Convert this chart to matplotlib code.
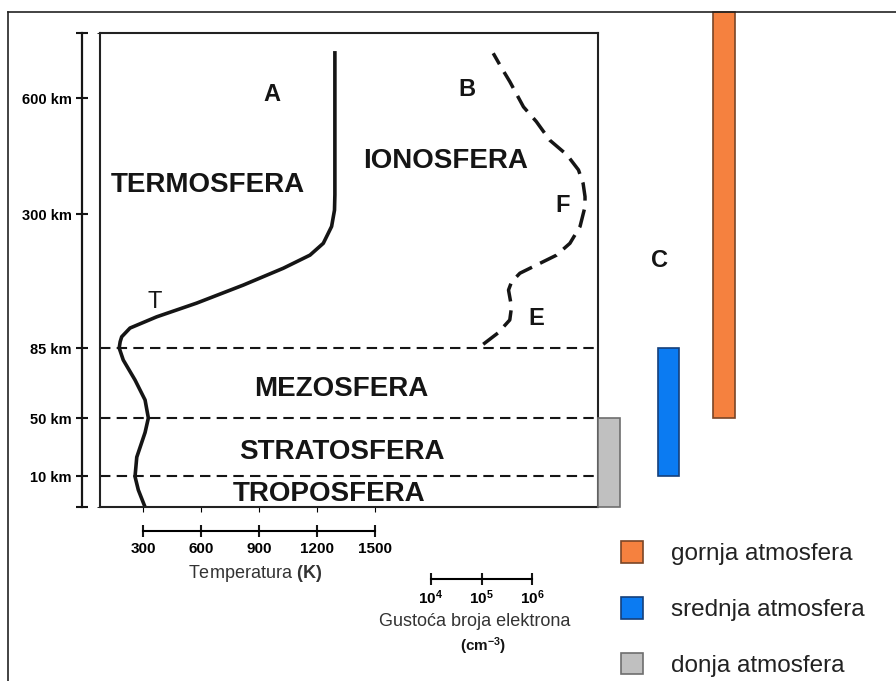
import numpy as np
import matplotlib
matplotlib.use('Agg')
import matplotlib.pyplot as plt
from matplotlib.patches import Patch
from matplotlib.lines import Line2D
from matplotlib.ticker import NullLocator

plt.rcParams['font.family'] = ['Liberation Sans', 'DejaVu Sans']
plt.rcParams['mathtext.fontset'] = 'custom'
plt.rcParams['mathtext.rm'] = 'Liberation Sans'
plt.rcParams['mathtext.bf'] = 'Liberation Sans:bold'
plt.rcParams['mathtext.it'] = 'Liberation Sans:italic'

# altitude axis (km) and layer boundaries
alt_ticks = [10, 50, 85, 300, 600]
alt_labels = ['10 km', '50 km', '85 km', '300 km', '600 km']
boundaries = [10, 50, 85]

# curve A - temperature profile
temp_alt = [0.6, 5.5, 9.8, 23, 40, 50, 59, 69, 79, 85, 95, 103, 117, 135, 157,
            186, 213, 234, 253, 280, 310, 350, 718]
temp_K = [305, 274, 257, 266, 309, 326, 309, 257, 196, 175, 180, 188, 231, 369,
          576, 818, 1025, 1163, 1232, 1275, 1290, 1292, 1292]

# curve B - electron number density
ne_alt = [91, 109, 130, 151, 178, 191, 205, 218, 234, 253, 280, 319, 345, 379,
          414, 453, 491, 539, 577, 643, 678, 717]
ne = [1.08e5, 2.1e5, 3.6e5, 3.9e5, 3.4e5, 3.9e5, 5.7e5, 1.2e6, 3.0e6, 5.5e6,
      8.7e6, 1.09e7, 1.09e7, 1.0e7, 8.1e6, 4.8e6, 2.2e6, 1.2e6, 6.7e5, 3.6e5,
      2.5e5, 1.7e5]

temp_ticks = [300, 600, 900, 1200, 1500]
ne_ticks = [1e4, 1e5, 1e6]

# regions (C)
regions = ['gornja atmosfera', 'srednja atmosfera', 'donja atmosfera']
region_bottom = [50, 10, 0]
region_top = [825, 85, 50]
region_colors = ['#f5813f', '#0b7bf2', '#c0c0c0']
region_edges = ['#7a4526', '#15407a', '#6e6e6e']

# the altitude axis of the drawing is stretched piecewise
scale_alt = [0, 10, 50, 85, 300, 600, 770, 1000]
scale_pos = [0, 31, 89, 159, 293, 409, 474, 562]

def fwd(a):
    return np.interp(a, scale_alt, scale_pos)

def inv(p):
    return np.interp(p, scale_pos, scale_alt)

W, H = 896, 681
fig = plt.figure(figsize=(W / 100, H / 100), dpi=100)

def fx(px):
    return px / W

def fy(py):
    return 1 - py / H

ink = '#151515'
box = [fx(100), fy(507), fx(598) - fx(100), fy(33) - fy(507)]

ax = fig.add_axes(box)
ax.set_yscale('function', functions=(fwd, inv))
ax.set_ylim(0, 770)
ax.set_xlim(75.6, 2654.6)
ax.tick_params(left=False, bottom=False, labelleft=False, labelbottom=False)
for s in ax.spines.values():
    s.set_linewidth(1.5)
    s.set_color('#222222')
ax.plot(temp_K, temp_alt, color=ink, lw=2.6, solid_joinstyle='round')
for b in boundaries:
    ax.axhline(b, color=ink, lw=1.5, dashes=(5, 3))

ax_ne = ax.twiny()
ax_ne.set_xscale('log')
ax_ne.set_xlim(10 ** -2.51, 10 ** 7.293)
ax_ne.plot(ne, ne_alt, color=ink, lw=2.5, dashes=(5.3, 2.6))
ax_ne.tick_params(which='both', top=False, labeltop=False)
for s in ax_ne.spines.values():
    s.set_visible(False)

# layer names and letters
big = dict(fontsize=20, fontweight='bold', color=ink, ha='center', va='center',
           transform=ax.transAxes)
ax.text(0.217, 0.679, 'TERMOSFERA', **big)
ax.text(0.693, 0.731, 'IONOSFERA', **big)
ax.text(0.484, 0.250, 'MEZOSFERA', **big)
ax.text(0.486, 0.115, 'STRATOSFERA', **big)
ax.text(0.460, 0.028, 'TROPOSFERA', **big)
small = dict(big, fontsize=17)
ax.text(0.345, 0.871, 'A', **small)
ax.text(0.737, 0.880, 'B', **small)
ax.text(0.928, 0.636, 'F', **small)
ax.text(0.876, 0.397, 'E', **small)
ax.text(0.110, 0.433, 'T', **dict(small, fontweight='normal'))

# altitude scale on the left
ax_h = fig.add_axes(box, sharey=ax)
ax_h.patch.set_visible(False)
for s in ['top', 'right', 'bottom']:
    ax_h.spines[s].set_visible(False)
ax_h.spines['left'].set_position(('outward', 13.2))
ax_h.spines['left'].set_linewidth(1.6)
ax_h.spines['left'].set_color(ink)
ax_h.set_xticks([])
ax_h.set_yticks(alt_ticks, alt_labels)
ax_h.set_yticks([0, 770], minor=True)
ax_h.tick_params(axis='y', which='both', direction='inout', length=8, width=1.5,
                 pad=3, labelsize=10.5, color=ink)
for lab in ax_h.get_yticklabels():
    lab.set_fontweight('bold')

# temperature scale
ax_t = fig.add_axes([box[0], fy(531), box[2], 0.0001], sharex=ax)
ax_t.patch.set_visible(False)
for s in ['top', 'right', 'left']:
    ax_t.spines[s].set_visible(False)
ax_t.spines['bottom'].set_bounds(300, 1500)
ax_t.spines['bottom'].set_linewidth(1.5)
ax_t.set_yticks([])
ax_t.set_xticks(temp_ticks, [str(t) for t in temp_ticks])
ax_t.tick_params(axis='x', direction='inout', length=8, width=1.5, pad=4,
                 labelsize=11, color=ink)
for lab in ax_t.get_xticklabels():
    lab.set_fontweight('bold')
fig.text(fx(255), fy(573), r'Temperatura $\mathbf{(K)}$', ha='center',
         va='center', fontsize=13, color='#333333')

# electron density scale
ax_d = fig.add_axes([box[0], fy(579), box[2], 0.0001], sharex=ax_ne)
ax_d.patch.set_visible(False)
for s in ['top', 'right', 'left']:
    ax_d.spines[s].set_visible(False)
ax_d.spines['bottom'].set_bounds(1e4, 1e6)
ax_d.spines['bottom'].set_linewidth(1.5)
ax_d.set_yticks([])
ax_d.set_xticks(ne_ticks, [r'$\mathbf{10}^{\mathbf{%d}}$' % round(np.log10(v)) for v in ne_ticks])
ax_d.xaxis.set_minor_locator(NullLocator())
ax_d.tick_params(axis='x', direction='inout', length=8, width=1.5, pad=3,
                 labelsize=11, color=ink)
fig.text(fx(474.5), fy(622), 'Gustoća broja elektrona', ha='center',
         va='center', fontsize=13, color='#333333')
fig.text(fx(483), fy(646), r'$\mathbf{(cm}^{\mathbf{-3}}\mathbf{)}$', ha='center',
         va='center', fontsize=11, color=ink)

# atmosphere regions as bars on the right
ax_b = fig.add_axes([fx(598), box[1], fx(896) - fx(598), box[3]], sharey=ax)
ax_b.set_xlim(0, 298)
ax_b.axis('off')
bar_x = [126, 70.5, 11]
bar_w = [22.3, 21.6, 22.7]
heights = [t - b for t, b in zip(region_top, region_bottom)]
ax_b.bar(bar_x, heights, bottom=region_bottom, width=bar_w, color=region_colors,
         edgecolor=region_edges, linewidth=1.2, clip_on=False)
fig.text(fx(659), fy(260), 'C', ha='center', va='center', fontsize=17,
         fontweight='bold', color=ink)

handles = [Patch(facecolor=c, edgecolor=e, linewidth=1.2)
           for c, e in zip(region_colors, region_edges)]
leg = fig.legend(handles, regions, loc='upper left',
                 bbox_to_anchor=(fx(621), fy(541)), frameon=False, fontsize=17.5,
                 handlelength=0.9, handleheight=1.0, handletextpad=1.15,
                 labelspacing=1.3, borderpad=0, borderaxespad=0)
for t in leg.get_texts():
    t.set_color('#222222')

# frame of the picture
fig.add_artist(Line2D([fx(8), fx(8)], [0, fy(12)], color='#222222', lw=1.2))
fig.add_artist(Line2D([fx(8), 1], [fy(12), fy(12)], color='#222222', lw=1.2))

fig.savefig('out.png', dpi=100)
